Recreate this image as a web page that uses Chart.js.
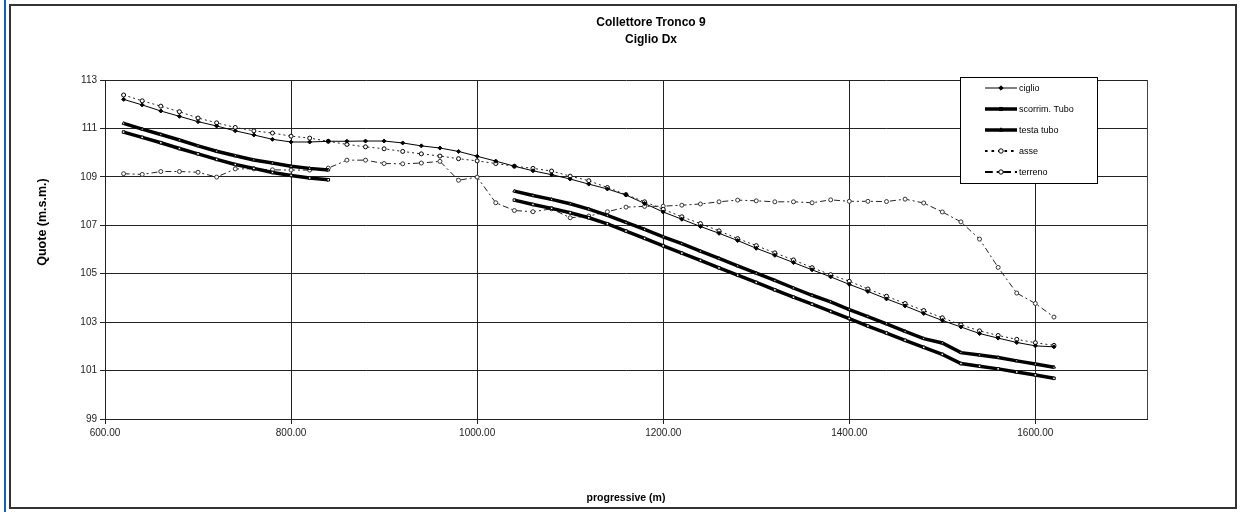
<!DOCTYPE html>
<html>
<head>
<meta charset="utf-8">
<script src="https://cdn.jsdelivr.net/npm/chart.js@4.4.1/dist/chart.umd.min.js"></script>
<style>
  html, body { margin: 0; padding: 0; background: #fff; }
  body { width: 1248px; height: 523px; position: relative; overflow: hidden; }
  #bordoBlu { position: absolute; left: 4px; top: 0; width: 2px; height: 512px; background: #0a64c8; }
  #cornice { position: absolute; left: 9px; top: 4px; width: 1224px; height: 501px; border: 2px solid #333; }
  #grafico { position: absolute; left: 0; top: 0; }
</style>
</head>
<body>
<div id="bordoBlu"></div>
<div id="cornice"></div>
<canvas id="grafico" width="1248" height="523"></canvas>
<script>
// === Dati ===
const titolo = ['Collettore Tronco 9', 'Ciglio Dx'];
const titoloY = 'Quote (m.s.m.)';
const titoloX = 'progressive (m)';

const progressive = [620, 640, 660, 680, 700, 720, 740, 760, 780, 800,
  820, 840, 860, 880, 900, 920, 940, 960, 980, 1000,
  1020, 1040, 1060, 1080, 1100, 1120, 1140, 1160, 1180, 1200,
  1220, 1240, 1260, 1280, 1300, 1320, 1340, 1360, 1380, 1400,
  1420, 1440, 1460, 1480, 1500, 1520, 1540, 1560, 1580, 1600, 1620];

const ciglio = [112.20, 111.97, 111.72, 111.50, 111.28, 111.10, 110.90, 110.73, 110.55, 110.44,
  110.44, 110.47, 110.47, 110.48, 110.48, 110.40, 110.28, 110.19, 110.05, 109.85,
  109.65, 109.44, 109.25, 109.09, 108.91, 108.70, 108.50, 108.25, 107.90, 107.55,
  107.25, 106.95, 106.67, 106.37, 106.05, 105.76, 105.46, 105.16, 104.87, 104.56,
  104.27, 103.96, 103.67, 103.36, 103.07, 102.80, 102.53, 102.34, 102.16, 102.02, 101.98];

const scorrimTubo = [110.85, 110.63, 110.41, 110.17, 109.95, 109.72, 109.51, 109.35, 109.18, 109.06,
  108.95, 108.88, null, null, null, null, null, null, null, null,
  null, 108.04, 107.86, 107.70, 107.52, 107.31, 107.06, 106.76, 106.46, 106.15,
  105.85, 105.55, 105.24, 104.94, 104.64, 104.33, 104.03, 103.74, 103.44, 103.15,
  102.84, 102.55, 102.25, 101.96, 101.67, 101.29, 101.18, 101.07, 100.94, 100.82, 100.68];

const testaTubo = [111.21, 110.97, 110.75, 110.52, 110.28, 110.06, 109.87, 109.70, 109.57, 109.44,
  109.35, 109.28, null, null, null, null, null, null, null, null,
  null, 108.41, 108.23, 108.07, 107.89, 107.67, 107.41, 107.12, 106.83, 106.52,
  106.24, 105.93, 105.63, 105.32, 105.02, 104.72, 104.41, 104.11, 103.84, 103.52,
  103.23, 102.93, 102.62, 102.32, 102.14, 101.74, 101.64, 101.54, 101.40, 101.27, 101.14];

const asse = [112.38, 112.14, 111.92, 111.69, 111.43, 111.23, 111.04, 110.90, 110.81, 110.68,
  110.60, 110.47, 110.34, 110.24, 110.16, 110.05, 109.95, 109.86, 109.75, 109.66,
  109.55, 109.44, 109.35, 109.24, 109.03, 108.84, 108.56, 108.27, 107.97, 107.66,
  107.35, 107.07, 106.77, 106.45, 106.16, 105.86, 105.57, 105.25, 104.96, 104.69,
  104.37, 104.07, 103.77, 103.48, 103.18, 102.89, 102.64, 102.45, 102.29, 102.15, 102.04];

const terreno = [109.13, 109.10, 109.22, 109.22, 109.19, 108.99, 109.33, 109.33, 109.29, 109.28,
  109.28, 109.36, 109.69, 109.69, 109.55, 109.54, 109.57, 109.64, 108.86, 108.99,
  107.93, 107.61, 107.56, 107.68, 107.31, 107.38, 107.56, 107.75, 107.78, 107.79,
  107.83, 107.88, 107.97, 108.04, 108.01, 107.97, 107.97, 107.93, 108.05, 107.99,
  107.99, 107.98, 108.08, 107.92, 107.55, 107.14, 106.43, 105.26, 104.20, 103.77, 103.21];

const FONT = '"Liberation Sans", Arial, sans-serif';

function serie(label, valori, stile) {
  return Object.assign({
    label: label,
    data: progressive.map((x, i) => ({ x: x, y: valori[i] })),
    borderColor: '#000',
    backgroundColor: '#000',
    pointBorderColor: '#000',
    pointBorderWidth: 1,
    spanGaps: false,
    tension: 0,
    fill: false
  }, stile);
}

const datasets = [
  serie('ciglio', ciglio, { borderWidth: 1, pointStyle: 'rectRot', pointRadius: 2, pointBackgroundColor: '#000' }),
  serie('scorrim. Tubo', scorrimTubo, { borderWidth: 3.5, pointStyle: 'rect', pointRadius: 1.8, pointBackgroundColor: '#fff' }),
  serie('testa tubo', testaTubo, { borderWidth: 3.5, pointStyle: 'triangle', pointRadius: 1.8, pointBackgroundColor: '#fff' }),
  serie('asse', asse, { borderWidth: 1, borderDash: [2, 3], borderColor: '#222', pointStyle: 'circle', pointRadius: 2, pointBackgroundColor: '#fff' }),
  serie('terreno', terreno, { borderWidth: 1, borderDash: [6, 3, 2, 3], borderColor: '#222', pointStyle: 'circle', pointRadius: 2, pointBackgroundColor: '#fff', pointBorderColor: '#333' })
];

// === Titoli ===
const titoloPlugin = {
  id: 'titolo',
  afterDraw(chart) {
    const ctx = chart.ctx;
    ctx.save();
    ctx.font = 'bold 12px ' + FONT;
    ctx.fillStyle = '#000';
    ctx.textAlign = 'center';
    ctx.textBaseline = 'middle';
    ctx.fillText(titolo[0], 651, 23);
    ctx.fillText(titolo[1], 651, 40);
    // titolo asse Y
    ctx.translate(43, 222);
    ctx.rotate(-Math.PI / 2);
    ctx.font = 'bold 12.5px ' + FONT;
    ctx.fillText(titoloY, 0, 0);
    ctx.restore();
  }
};

// === Bordo destro area grafico ===
const bordoPlugin = {
  id: 'bordo',
  afterDatasetsDraw(chart) {
    const a = chart.chartArea;
    const ctx = chart.ctx;
    ctx.save();
    ctx.strokeStyle = '#444';
    ctx.lineWidth = 1;
    ctx.beginPath();
    ctx.moveTo(Math.round(a.right) + 0.5, a.top);
    ctx.lineTo(Math.round(a.right) + 0.5, a.bottom);
    ctx.stroke();
    ctx.restore();
  }
};

// === Legenda dentro l'area ===
const legendaPlugin = {
  id: 'legenda',
  afterDraw(chart) {
    const ctx = chart.ctx;
    const box = { x: 960, y: 77, w: 137, h: 106 };
    ctx.save();
    ctx.fillStyle = '#fff';
    ctx.fillRect(box.x, box.y, box.w, box.h);
    ctx.strokeStyle = '#000';
    ctx.lineWidth = 1;
    ctx.strokeRect(box.x + 0.5, box.y + 0.5, box.w, box.h);
    chart.data.datasets.forEach((ds, i) => {
      const y = 88 + i * 21;
      ctx.save();
      ctx.strokeStyle = '#000';
      ctx.lineWidth = ds.borderWidth > 2 ? 3.5 : (ds.borderDash ? 2 : 1);
      ctx.setLineDash(ds.borderDash ? ds.borderDash.map(v => v * 1.3) : []);
      ctx.beginPath();
      ctx.moveTo(985, y);
      ctx.lineTo(1017, y);
      ctx.stroke();
      ctx.setLineDash([]);
      ctx.fillStyle = ds.borderWidth > 2 ? '#000' : ds.pointBackgroundColor;
      ctx.strokeStyle = '#000';
      ctx.lineWidth = 1;
      Chart.helpers.drawPoint(ctx, { pointStyle: ds.pointStyle, radius: 2.2, rotation: 0, borderWidth: 1 }, 1001, y);
      ctx.restore();
      ctx.fillStyle = '#000';
      ctx.font = '9px ' + FONT;
      ctx.textAlign = 'left';
      ctx.textBaseline = 'middle';
      ctx.fillText(ds.label, 1019, y + 0.5);
    });
    ctx.restore();
  }
};

// === Chart ===
const ctx = document.getElementById('grafico').getContext('2d');
const profilo = new Chart(ctx, {
  type: 'line',
  data: { datasets: datasets },
  plugins: [titoloPlugin, bordoPlugin, legendaPlugin],
  options: {
    responsive: false,
    animation: false,
    devicePixelRatio: 1,
    layout: { padding: { left: 12, right: 101, top: 80, bottom: 14 } },
    plugins: {
      legend: { display: false },
      title: { display: false },
      tooltip: { enabled: false }
    },
    scales: {
      x: {
        type: 'linear',
        min: 600,
        max: 1720,
        afterFit(scale) { scale.height = 90; },
        ticks: {
          stepSize: 200,
          includeBounds: false,
          padding: 3,
          color: '#222',
          font: { family: FONT, size: 10 },
          maxRotation: 0,
          callback: v => v.toFixed(2)
        },
        grid: { color: '#222', lineWidth: 1, tickLength: 5 },
        border: { color: '#222' },
        title: {
          display: true,
          text: titoloX,
          color: '#000',
          font: { family: FONT, size: 10.5, weight: 'bold' },
          padding: { top: 0, bottom: 5 }
        }
      },
      y: {
        min: 99,
        max: 113,
        afterFit(scale) { scale.width = 93; },
        ticks: {
          stepSize: 2,
          padding: 3,
          color: '#222',
          font: { family: FONT, size: 10 }
        },
        grid: { color: '#222', lineWidth: 1, tickLength: 5 },
        border: { color: '#222' }
      }
    }
  }
});
</script>
</body>
</html>
